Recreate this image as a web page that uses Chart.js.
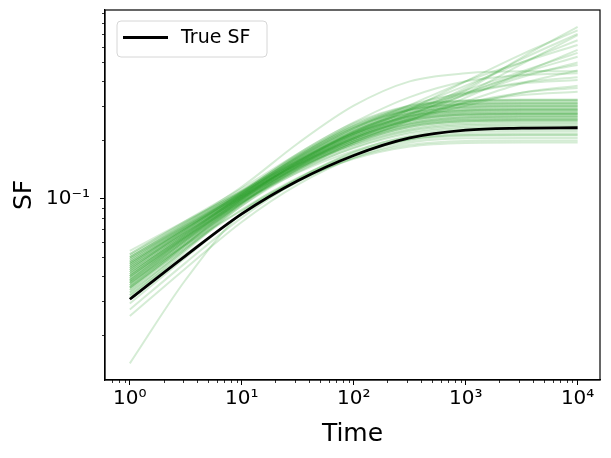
<!DOCTYPE html>
<html>
<head>
<meta charset="utf-8">
<script src="https://cdn.jsdelivr.net/npm/chart.js@4.4.1/dist/chart.umd.min.js"></script>
<style>
  html, body { margin: 0; padding: 0; background: #fff; }
</style>
</head>
<body>
<canvas id="chart" width="611" height="458"></canvas>
<script>
// sample times (log spaced, half decades)
const TIMES = [1, 3.162, 10, 31.62, 100, 316.2, 1000, 3162, 10000];

const TRUE_SF = [0.0305, 0.0511, 0.0836, 0.1236, 0.1667, 0.2051, 0.2249, 0.2301, 0.2312];

// sampled SF curves that level off
const PLATEAU_SF = [
  [0.043, 0.069, 0.108, 0.170, 0.244, 0.300, 0.320, 0.323, 0.323],
  [0.048, 0.073, 0.109, 0.168, 0.238, 0.294, 0.316, 0.319, 0.319],
  [0.039, 0.064, 0.104, 0.164, 0.236, 0.292, 0.312, 0.315, 0.315],
  [0.052, 0.076, 0.110, 0.166, 0.234, 0.288, 0.308, 0.311, 0.311],
  [0.036, 0.061, 0.101, 0.160, 0.230, 0.286, 0.306, 0.309, 0.309],
  [0.045, 0.070, 0.107, 0.165, 0.232, 0.284, 0.302, 0.304, 0.304],
  [0.041, 0.066, 0.104, 0.160, 0.226, 0.278, 0.298, 0.300, 0.300],
  [0.050, 0.074, 0.108, 0.162, 0.224, 0.274, 0.294, 0.297, 0.297],
  [0.034, 0.058, 0.098, 0.154, 0.220, 0.274, 0.292, 0.294, 0.294],
  [0.044, 0.068, 0.105, 0.158, 0.220, 0.270, 0.288, 0.290, 0.290],
  [0.038, 0.063, 0.101, 0.155, 0.216, 0.266, 0.284, 0.287, 0.287],
  [0.047, 0.071, 0.106, 0.157, 0.216, 0.264, 0.282, 0.284, 0.284],
  [0.040, 0.064, 0.101, 0.152, 0.212, 0.260, 0.278, 0.280, 0.280],
  [0.054, 0.077, 0.109, 0.156, 0.212, 0.258, 0.276, 0.278, 0.278],
  [0.033, 0.056, 0.095, 0.148, 0.208, 0.256, 0.274, 0.276, 0.276],
  [0.042, 0.066, 0.102, 0.151, 0.208, 0.254, 0.270, 0.272, 0.272],
  [0.037, 0.061, 0.098, 0.148, 0.204, 0.250, 0.268, 0.270, 0.270],
  [0.046, 0.070, 0.104, 0.151, 0.204, 0.248, 0.264, 0.266, 0.266],
  [0.039, 0.063, 0.099, 0.147, 0.200, 0.244, 0.261, 0.263, 0.263],
  [0.049, 0.072, 0.105, 0.150, 0.200, 0.242, 0.258, 0.260, 0.260],
  [0.035, 0.058, 0.095, 0.143, 0.196, 0.240, 0.256, 0.258, 0.258],
  [0.043, 0.067, 0.102, 0.148, 0.196, 0.236, 0.252, 0.254, 0.254],
  [0.031, 0.054, 0.092, 0.140, 0.192, 0.234, 0.250, 0.252, 0.252],
  [0.041, 0.065, 0.100, 0.145, 0.192, 0.230, 0.246, 0.248, 0.248],
  [0.036, 0.059, 0.095, 0.141, 0.188, 0.226, 0.242, 0.244, 0.244],
  [0.045, 0.068, 0.101, 0.144, 0.188, 0.224, 0.238, 0.240, 0.240],
  [0.033, 0.055, 0.092, 0.137, 0.183, 0.220, 0.234, 0.236, 0.236],
  [0.038, 0.061, 0.096, 0.139, 0.182, 0.216, 0.230, 0.232, 0.232],
  [0.029, 0.050, 0.084, 0.127, 0.174, 0.210, 0.225, 0.227, 0.227],
  [0.042, 0.064, 0.096, 0.136, 0.176, 0.208, 0.220, 0.222, 0.222],
  [0.027, 0.047, 0.080, 0.123, 0.168, 0.202, 0.215, 0.216, 0.216],
  [0.035, 0.056, 0.088, 0.128, 0.168, 0.199, 0.210, 0.211, 0.211],
  [0.025, 0.044, 0.076, 0.118, 0.162, 0.194, 0.204, 0.205, 0.205],
  [0.032, 0.052, 0.083, 0.122, 0.162, 0.189, 0.198, 0.199, 0.199],
  [0.037, 0.058, 0.087, 0.124, 0.160, 0.185, 0.193, 0.194, 0.194],
  [0.040, 0.065, 0.105, 0.165, 0.240, 0.298, 0.318, 0.321, 0.321],
  [0.046, 0.071, 0.107, 0.163, 0.230, 0.284, 0.304, 0.307, 0.307],
  [0.035, 0.059, 0.099, 0.156, 0.222, 0.276, 0.296, 0.299, 0.299],
  [0.050, 0.073, 0.107, 0.158, 0.218, 0.268, 0.286, 0.288, 0.288],
  [0.038, 0.062, 0.100, 0.153, 0.214, 0.264, 0.282, 0.284, 0.284],
  [0.044, 0.067, 0.102, 0.151, 0.206, 0.252, 0.270, 0.273, 0.273],
  [0.032, 0.055, 0.094, 0.146, 0.204, 0.252, 0.270, 0.272, 0.272],
  [0.047, 0.070, 0.103, 0.149, 0.200, 0.244, 0.262, 0.265, 0.265],
  [0.040, 0.063, 0.098, 0.145, 0.196, 0.238, 0.254, 0.256, 0.256],
  [0.034, 0.057, 0.094, 0.141, 0.192, 0.234, 0.250, 0.252, 0.252]
];

// sampled SF curves that keep rising at long lags
const RISING_SF = [
  [0.041, 0.065, 0.102, 0.151, 0.206, 0.267, 0.360, 0.530, 0.762],
  [0.046, 0.070, 0.105, 0.154, 0.214, 0.287, 0.400, 0.550, 0.730],
  [0.037, 0.061, 0.098, 0.146, 0.200, 0.260, 0.345, 0.490, 0.690],
  [0.049, 0.073, 0.108, 0.160, 0.226, 0.302, 0.400, 0.500, 0.614],
  [0.039, 0.063, 0.100, 0.149, 0.206, 0.270, 0.345, 0.440, 0.535],
  [0.044, 0.068, 0.104, 0.154, 0.216, 0.282, 0.350, 0.430, 0.485],
  [0.036, 0.059, 0.096, 0.143, 0.196, 0.252, 0.315, 0.390, 0.455],
  [0.050, 0.075, 0.115, 0.192, 0.300, 0.400, 0.440, 0.450, 0.450],
  [0.043, 0.067, 0.103, 0.152, 0.221, 0.287, 0.345, 0.390, 0.406],
  [0.038, 0.062, 0.099, 0.147, 0.204, 0.254, 0.300, 0.350, 0.380],
  [0.047, 0.071, 0.106, 0.156, 0.216, 0.264, 0.310, 0.340, 0.354],
  [0.052, 0.077, 0.113, 0.170, 0.246, 0.332, 0.400, 0.430, 0.440],
  [0.042, 0.066, 0.103, 0.153, 0.212, 0.274, 0.370, 0.520, 0.700],
  [0.048, 0.072, 0.107, 0.157, 0.220, 0.292, 0.380, 0.500, 0.650],
  [0.035, 0.058, 0.095, 0.142, 0.194, 0.252, 0.330, 0.440, 0.580],
  [0.045, 0.069, 0.105, 0.155, 0.218, 0.287, 0.360, 0.450, 0.560],
  [0.040, 0.064, 0.101, 0.150, 0.210, 0.272, 0.340, 0.420, 0.500],
  [0.051, 0.075, 0.110, 0.162, 0.230, 0.302, 0.350, 0.395, 0.420],
  [0.037, 0.060, 0.097, 0.145, 0.202, 0.257, 0.310, 0.350, 0.370]
];

const LOW_START_SF = [0.0143, 0.0385, 0.085, 0.126, 0.172, 0.202, 0.212, 0.213, 0.213];

const X_TICKS = [1, 10, 100, 1000, 10000];
const X_TICK_LABELS = ['10⁰', '10¹', '10²', '10³', '10⁴'];
const X_MINOR = [0.7, 0.8, 0.9, 2, 3, 4, 5, 6, 7, 8, 9, 20, 30, 40, 50, 60, 70, 80, 90,
  200, 300, 400, 500, 600, 700, 800, 900, 2000, 3000, 4000, 5000, 6000, 7000, 8000, 9000];
const Y_TICKS = [0.1];
const Y_TICK_LABELS = ['10⁻¹'];
const Y_MINOR = [0.02, 0.03, 0.04, 0.05, 0.06, 0.07, 0.08, 0.09, 0.2, 0.3, 0.4, 0.5, 0.6, 0.7, 0.8, 0.9];

const FONT = "'DejaVu Sans', sans-serif";
const GREEN = 'rgba(44, 160, 44, 0.2)';

const toPoints = ys => ys.map((y, i) => ({ x: TIMES[i], y: y }));

const datasets = [{
  label: 'True SF',
  data: toPoints(TRUE_SF),
  borderColor: '#000',
  borderWidth: 2.8,
  order: 0
}];
[...PLATEAU_SF, ...RISING_SF, LOW_START_SF].forEach(ys => {
  datasets.push({ label: '', data: toPoints(ys), borderColor: GREEN, borderWidth: 2, order: 1 });
});

// small ticks between decades, plus the top/right spines
const minorTicks = {
  id: 'minorTicks',
  afterDraw(chart) {
    const ctx = chart.ctx;
    const { left, right, top, bottom } = chart.chartArea;
    const xs = chart.scales.x, ys = chart.scales.y;
    ctx.save();
    ctx.strokeStyle = '#000';
    ctx.lineWidth = 0.8;
    ctx.beginPath();
    X_MINOR.forEach(v => {
      const px = Math.round(xs.getPixelForValue(v)) + 0.5;
      ctx.moveTo(px, bottom);
      ctx.lineTo(px, bottom + 3);
    });
    Y_MINOR.forEach(v => {
      const py = Math.round(ys.getPixelForValue(v)) + 0.5;
      ctx.moveTo(left - 3, py);
      ctx.lineTo(left, py);
    });
    ctx.stroke();
    ctx.lineWidth = 1.2;
    ctx.strokeRect(left, top, right - left, bottom - top);
    ctx.restore();
  }
};

// matplotlib style legend box in the upper left
const legendBox = {
  id: 'legendBox',
  afterDraw(chart) {
    const ctx = chart.ctx;
    const x = 117, y = 21, w = 150, h = 36, r = 4;
    ctx.save();
    ctx.beginPath();
    ctx.moveTo(x + r, y);
    ctx.arcTo(x + w, y, x + w, y + h, r);
    ctx.arcTo(x + w, y + h, x, y + h, r);
    ctx.arcTo(x, y + h, x, y, r);
    ctx.arcTo(x, y, x + w, y, r);
    ctx.closePath();
    ctx.fillStyle = 'rgba(255,255,255,0.8)';
    ctx.fill();
    ctx.strokeStyle = '#d6d6d6';
    ctx.lineWidth = 1;
    ctx.stroke();
    ctx.beginPath();
    ctx.moveTo(123, 37.5);
    ctx.lineTo(168, 37.5);
    ctx.strokeStyle = '#000';
    ctx.lineWidth = 2.8;
    ctx.stroke();
    ctx.fillStyle = '#000';
    ctx.font = '19px ' + FONT;
    ctx.textBaseline = 'middle';
    ctx.fillText(datasets[0].label, 181, 38);
    ctx.restore();
  }
};

new Chart(document.getElementById('chart'), {
  type: 'line',
  data: { datasets: datasets },
  options: {
    responsive: false,
    animation: false,
    layout: { padding: { top: 10, right: 11, left: 0, bottom: 0 } },
    elements: {
      point: { radius: 0 },
      line: { cubicInterpolationMode: 'monotone', fill: false }
    },
    plugins: { legend: { display: false }, tooltip: { enabled: false } },
    scales: {
      x: {
        type: 'logarithmic',
        min: 0.631,
        max: 15849,
        afterBuildTicks: s => { s.ticks = X_TICKS.map(v => ({ value: v })); },
        afterFit: s => { s.height = 78; s.paddingLeft = 0; s.paddingRight = 0; },
        ticks: {
          callback: v => X_TICK_LABELS[X_TICKS.indexOf(v)],
          color: '#000',
          font: { family: FONT, size: 20 },
          maxRotation: 0,
          autoSkip: false,
          padding: 2
        },
        grid: { drawOnChartArea: false, tickLength: 5, tickColor: '#000', tickWidth: 1 },
        border: { color: '#000', width: 1.2 },
        title: {
          display: true, text: 'Time', color: '#000',
          font: { family: FONT, size: 25 },
          padding: { top: 0, bottom: 9 }
        }
      },
      y: {
        type: 'logarithmic',
        min: 0.01175,
        max: 0.929,
        afterBuildTicks: s => { s.ticks = Y_TICKS.map(v => ({ value: v })); },
        afterFit: s => { s.width = 105; s.paddingTop = 0; s.paddingBottom = 0; },
        ticks: {
          callback: v => Y_TICK_LABELS[Y_TICKS.indexOf(v)],
          color: '#000',
          font: { family: FONT, size: 20 },
          padding: 10
        },
        grid: { drawOnChartArea: false, tickLength: 5, tickColor: '#000', tickWidth: 1 },
        border: { color: '#000', width: 1.2 },
        title: {
          display: true, text: 'SF', color: '#000',
          font: { family: FONT, size: 25 },
          padding: { top: 9, bottom: 0 }
        }
      }
    }
  },
  plugins: [minorTicks, legendBox]
});
</script>
</body>
</html>
